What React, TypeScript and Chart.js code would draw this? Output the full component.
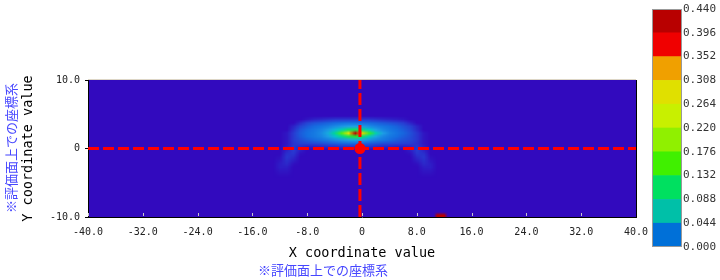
import React, { useEffect, useRef } from 'react';
import { Chart, registerables } from 'chart.js';
Chart.register(...registerables);

// ---------- axes ----------
const xTicks = [-40, -32, -24, -16, -8, 0, 8, 16, 24, 32, 40];
const yTicks = [-10, 0, 10];
const xRange = [-40, 40];
const yRange = [-10, 10];

// ---------- crosshair (evaluation point) ----------
const crossX = [-0.3];
const crossY = [0];

// ---------- heat map grid ----------
const heatX = [-13, -12, -11, -10, -9, -8, -7, -6, -5, -4, -3, -2, -1, 0, 1, 2, 3, 4, 5, 6, 7, 8, 9, 10, 11];
const heatY = [4.75, 4.25, 3.75, 3.25, 2.75, 2.25, 1.75, 1.25, 0.75, 0.25, -0.25, -0.75, -1.25, -1.75, -2.25, -2.75, -3.25, -3.75, -4.25, -4.75];
const heatValues = [
  [0, 0, 0, 0, 0, 0, 0, 0, 0, 0, 0, 0, 0, 0, 0, 0, 0, 0, 0, 0, 0, 0, 0, 0, 0],
  [0, 0, 0, 0, 0, 0.002, 0.004, 0.005, 0.006, 0.007, 0.007, 0.007, 0.007, 0.007, 0.007, 0.006, 0.005, 0.004, 0.003, 0.002, 0, 0, 0, 0, 0],
  [0, 0, 0, 0, 0.005, 0.01, 0.013, 0.015, 0.017, 0.019, 0.021, 0.022, 0.022, 0.021, 0.019, 0.017, 0.015, 0.013, 0.011, 0.008, 0.004, 0, 0, 0, 0],
  [0, 0, 0, 0.004, 0.01, 0.015, 0.019, 0.022, 0.026, 0.031, 0.036, 0.04, 0.04, 0.037, 0.032, 0.027, 0.023, 0.02, 0.017, 0.013, 0.009, 0.004, 0, 0, 0],
  [0, 0, 0, 0.006, 0.014, 0.019, 0.023, 0.028, 0.036, 0.05, 0.07, 0.1, 0.11, 0.09, 0.06, 0.04, 0.03, 0.024, 0.02, 0.016, 0.011, 0.005, 0, 0, 0],
  [0, 0, 0.002, 0.008, 0.016, 0.021, 0.025, 0.031, 0.045, 0.08, 0.15, 0.28, 0.43, 0.3, 0.14, 0.07, 0.04, 0.028, 0.022, 0.018, 0.013, 0.007, 0.002, 0, 0],
  [0, 0, 0.002, 0.008, 0.015, 0.02, 0.024, 0.029, 0.038, 0.055, 0.08, 0.11, 0.125, 0.1, 0.065, 0.042, 0.03, 0.024, 0.02, 0.016, 0.012, 0.007, 0.002, 0, 0],
  [0, 0, 0.002, 0.008, 0.012, 0.016, 0.019, 0.022, 0.026, 0.031, 0.036, 0.041, 0.044, 0.04, 0.034, 0.028, 0.024, 0.02, 0.016, 0.013, 0.011, 0.007, 0.002, 0, 0],
  [0, 0, 0.002, 0.007, 0.009, 0.01, 0.011, 0.012, 0.014, 0.016, 0.018, 0.019, 0.019, 0.018, 0.016, 0.014, 0.012, 0.011, 0.01, 0.009, 0.008, 0.006, 0.002, 0, 0],
  [0, 0, 0.003, 0.007, 0.005, 0.003, 0.003, 0.004, 0.005, 0.005, 0.006, 0.006, 0.006, 0.006, 0.006, 0.005, 0.004, 0.004, 0.003, 0.003, 0.004, 0.007, 0.003, 0, 0],
  [0, 0, 0.004, 0.008, 0.003, 0, 0, 0, 0, 0, 0, 0, 0, 0, 0, 0, 0, 0, 0, 0, 0.003, 0.008, 0.004, 0, 0],
  [0, 0, 0.006, 0.007, 0.001, 0, 0, 0, 0, 0, 0, 0, 0, 0, 0, 0, 0, 0, 0, 0, 0.001, 0.007, 0.006, 0, 0],
  [0, 0.001, 0.007, 0.005, 0, 0, 0, 0, 0, 0, 0, 0, 0, 0, 0, 0, 0, 0, 0, 0, 0, 0.005, 0.007, 0.001, 0],
  [0, 0.002, 0.006, 0.003, 0, 0, 0, 0, 0, 0, 0, 0, 0, 0, 0, 0, 0, 0, 0, 0, 0, 0.003, 0.006, 0.002, 0],
  [0, 0.003, 0.005, 0.001, 0, 0, 0, 0, 0, 0, 0, 0, 0, 0, 0, 0, 0, 0, 0, 0, 0, 0.001, 0.005, 0.003, 0],
  [0, 0.003, 0.003, 0, 0, 0, 0, 0, 0, 0, 0, 0, 0, 0, 0, 0, 0, 0, 0, 0, 0, 0, 0.003, 0.003, 0],
  [0, 0.002, 0.002, 0, 0, 0, 0, 0, 0, 0, 0, 0, 0, 0, 0, 0, 0, 0, 0, 0, 0, 0, 0.002, 0.002, 0],
  [0, 0.001, 0.001, 0, 0, 0, 0, 0, 0, 0, 0, 0, 0, 0, 0, 0, 0, 0, 0, 0, 0, 0, 0.001, 0.001, 0],
  [0, 0, 0, 0, 0, 0, 0, 0, 0, 0, 0, 0, 0, 0, 0, 0, 0, 0, 0, 0, 0, 0, 0, 0, 0],
  [0, 0, 0, 0, 0, 0, 0, 0, 0, 0, 0, 0, 0, 0, 0, 0, 0, 0, 0, 0, 0, 0, 0, 0, 0],
];

// small hot spot at the lower edge
const spotX = [10, 10.5, 11, 11.5, 12, 12.5, 13];
const spotY = [-9.25, -9.75];
const spotValues = [
  [0, 0, 0, 0, 0, 0, 0],
  [0, 0, 0.44, 0.44, 0.44, 0, 0],
];

// ---------- colour scale ----------
const cbTicks = [0, 0.044, 0.088, 0.132, 0.176, 0.22, 0.264, 0.308, 0.352, 0.396, 0.44];
const cbColors = ['#0070d8', '#00c0a8', '#00e060', '#40f000', '#90f000', '#c8f000', '#e0e000', '#f0a000', '#f00000', '#b80000'];
const cmapStops = [0, 0.008, 0.02, 0.04, 0.06, 0.09, 0.13, 0.18, 0.24, 0.29, 0.33, 0.37, 0.4, 0.44];
const cmapRGB: number[][] = [
  [50, 10, 190], [40, 60, 210], [20, 110, 225], [30, 160, 230], [0, 200, 200], [0, 220, 130],
  [40, 235, 40], [130, 240, 0], [200, 240, 0], [230, 225, 0], [240, 170, 0], [240, 40, 0], [210, 0, 0], [184, 0, 0],
];
const bgColor = 'rgb(50,10,190)';

const noteText = '※評価面上での座標系';

function cmap(v: number): number[] {
  if (v <= cmapStops[0]) return cmapRGB[0];
  for (let i = 1; i < cmapStops.length; i++) {
    if (v <= cmapStops[i]) {
      const t = (v - cmapStops[i - 1]) / (cmapStops[i] - cmapStops[i - 1]);
      const a = cmapRGB[i - 1], b = cmapRGB[i];
      return [a[0] + (b[0] - a[0]) * t, a[1] + (b[1] - a[1]) * t, a[2] + (b[2] - a[2]) * t];
    }
  }
  return cmapRGB[cmapRGB.length - 1];
}

function makeImage(vals: number[][]) {
  const h = vals.length, w = vals[0].length;
  const c = document.createElement('canvas');
  c.width = w; c.height = h;
  const g = c.getContext('2d')!;
  const img = g.createImageData(w, h);
  for (let r = 0; r < h; r++) {
    for (let k = 0; k < w; k++) {
      const [R, G, B] = cmap(vals[r][k]);
      const o = (r * w + k) * 4;
      img.data[o] = R; img.data[o + 1] = G; img.data[o + 2] = B; img.data[o + 3] = 255;
    }
  }
  g.putImageData(img, 0, 0);
  return c;
}

const fmtX = (v: number) => (v === 0 ? '0' : v.toFixed(1));
const mono = 'DejaVu Sans Mono';

export default function App() {
  const mainRef = useRef<HTMLCanvasElement>(null);
  const cbRef = useRef<HTMLCanvasElement>(null);

  useEffect(() => {
    document.body.style.margin = '0';
    const heatImg = makeImage(heatValues);
    const spotImg = makeImage(spotValues);

    const drawGrid = (chart: any, img: HTMLCanvasElement, xs: number[], ys: number[]) => {
      const { ctx, scales } = chart;
      const dx = xs[1] - xs[0];
      const dy = ys[0] - ys[1];
      const x0 = scales.x.getPixelForValue(xs[0] - dx / 2);
      const x1 = scales.x.getPixelForValue(xs[xs.length - 1] + dx / 2);
      const y0 = scales.y.getPixelForValue(ys[0] + dy / 2);
      const y1 = scales.y.getPixelForValue(ys[ys.length - 1] - dy / 2);
      ctx.drawImage(img, x0, y0, x1 - x0, y1 - y0);
    };

    const heatPlugin = {
      id: 'heat',
      beforeDraw(chart: any) {
        const { ctx, chartArea: a } = chart;
        ctx.save();
        ctx.beginPath();
        ctx.rect(a.left, a.top, a.right - a.left, a.bottom - a.top);
        ctx.clip();
        ctx.fillStyle = bgColor;
        ctx.fillRect(a.left, a.top, a.right - a.left, a.bottom - a.top);
        ctx.imageSmoothingEnabled = true;
        drawGrid(chart, heatImg, heatX, heatY);
        drawGrid(chart, spotImg, spotX, spotY);
        ctx.restore();
      },
      afterDraw(chart: any) {
        const { ctx, chartArea: a, scales } = chart;
        ctx.save();
        // bottom tick marks inside the plot
        ctx.strokeStyle = '#c8c8c8';
        ctx.lineWidth = 1;
        xTicks.forEach((v) => {
          const px = Math.round(scales.x.getPixelForValue(v)) + 0.5;
          ctx.beginPath();
          ctx.moveTo(px, a.bottom - 1);
          ctx.lineTo(px, a.bottom - 4);
          ctx.stroke();
        });
        // top and right frame
        ctx.strokeStyle = '#ddd6c6';
        ctx.beginPath();
        ctx.moveTo(a.left, a.top - 0.5);
        ctx.lineTo(a.right, a.top - 0.5);
        ctx.stroke();
        ctx.strokeStyle = '#000';
        ctx.beginPath();
        ctx.moveTo(a.right + 0.5, a.top);
        ctx.lineTo(a.right + 0.5, a.bottom);
        ctx.stroke();
        // notes
        ctx.fillStyle = '#4646ff';
        ctx.font = '13px "Noto Sans CJK JP"';
        ctx.textAlign = 'center';
        ctx.textBaseline = 'middle';
        ctx.fillText(noteText, 323, 270);
        ctx.translate(11, 148);
        ctx.rotate(-Math.PI / 2);
        ctx.fillText(noteText, 0, 0);
        ctx.restore();
      },
    };

    const main = new Chart(mainRef.current!, {
      type: 'scatter',
      data: {
        datasets: [
          {
            data: xRange.map((x) => ({ x, y: crossY[0] })),
            showLine: true,
            borderColor: '#ff0000',
            borderWidth: 3,
            borderDash: [11, 4],
            pointRadius: 0,
          },
          {
            data: yRange.map((y) => ({ x: crossX[0], y })),
            showLine: true,
            borderColor: '#ff0000',
            borderWidth: 3,
            borderDash: [12, 4],
            pointRadius: 0,
          },
          {
            data: crossX.map((x, i) => ({ x, y: crossY[i] })),
            pointRadius: 5.5,
            backgroundColor: '#ff0000',
            borderWidth: 0,
          },
        ],
      },
      options: {
        responsive: false,
        animation: false,
        events: [],
        layout: { padding: { left: 0, right: 84, top: 80, bottom: 0 } },
        plugins: { legend: { display: false }, tooltip: { enabled: false } },
        scales: {
          x: {
            type: 'linear',
            min: xRange[0],
            max: xRange[1],
            afterBuildTicks: (s: any) => { s.ticks = xTicks.map((value) => ({ value })); },
            afterFit: (s: any) => { s.height = 63; },
            ticks: {
              callback: (v: any) => fmtX(Number(v)),
              font: { family: mono, size: 10 },
              color: '#222',
              padding: 9,
              maxRotation: 0,
              autoSkip: false,
            },
            grid: { display: false, drawTicks: false },
            border: { display: true, color: '#000', width: 1 },
            title: {
              display: true,
              text: 'X coordinate value',
              font: { family: mono, size: 13.5 },
              color: '#000',
              padding: { top: 0, bottom: 18 },
            },
          },
          y: {
            type: 'linear',
            min: yRange[0],
            max: yRange[1],
            afterBuildTicks: (s: any) => { s.ticks = yTicks.map((value) => ({ value })); },
            afterFit: (s: any) => { s.width = 88; },
            ticks: {
              callback: (v: any) => fmtX(Number(v)),
              font: { family: mono, size: 10 },
              color: '#222',
              padding: 5,
            },
            grid: { display: true, drawOnChartArea: false, drawTicks: true, tickLength: 3, color: '#000' },
            border: { display: true, color: '#000', width: 1 },
            title: {
              display: true,
              text: 'Y coordinate value',
              font: { family: mono, size: 13.5 },
              color: '#000',
              padding: { top: 20, bottom: 0 },
            },
          },
        },
      },
      plugins: [heatPlugin],
    } as any);

    const cbFrame = {
      id: 'cbFrame',
      afterDraw(chart: any) {
        const { ctx, chartArea: a } = chart;
        ctx.save();
        ctx.strokeStyle = '#999';
        ctx.lineWidth = 1;
        ctx.strokeRect(a.left + 0.5, a.top + 0.5, a.right - a.left - 1, a.bottom - a.top - 1);
        ctx.restore();
      },
    };

    const cb = new Chart(cbRef.current!, {
      type: 'bar',
      data: {
        labels: [''],
        datasets: cbColors.map((c, i) => ({
          data: [cbTicks[i + 1] - cbTicks[i]],
          backgroundColor: c,
          borderWidth: 0,
          barPercentage: 1,
          categoryPercentage: 1,
          stack: 's',
        })),
      },
      options: {
        responsive: false,
        animation: false,
        events: [],
        layout: { padding: { left: 12, right: 0, top: 9, bottom: 9 } },
        plugins: { legend: { display: false }, tooltip: { enabled: false } },
        scales: {
          x: { stacked: true, display: false },
          y: {
            stacked: true,
            position: 'right',
            min: cbTicks[0],
            max: cbTicks[cbTicks.length - 1],
            afterBuildTicks: (s: any) => { s.ticks = cbTicks.map((value) => ({ value })); },
            afterFit: (s: any) => { s.width = 38; },
            ticks: {
              callback: (v: any) => Number(v).toFixed(3),
              font: { family: mono, size: 11 },
              color: '#333',
              padding: 1,
            },
            grid: { display: false, drawTicks: false },
            border: { display: false },
          },
        },
      },
      plugins: [cbFrame],
    } as any);

    return () => {
      main.destroy();
      cb.destroy();
    };
  }, []);

  return (
    <div style={{ position: 'relative', width: 720, height: 280, background: '#fff' }}>
      <canvas ref={mainRef} width={720} height={280} style={{ position: 'absolute', left: 0, top: 0, width: 720, height: 280 }} />
      <canvas ref={cbRef} width={80} height={256} style={{ position: 'absolute', left: 640, top: 0, width: 80, height: 256 }} />
    </div>
  );
}
